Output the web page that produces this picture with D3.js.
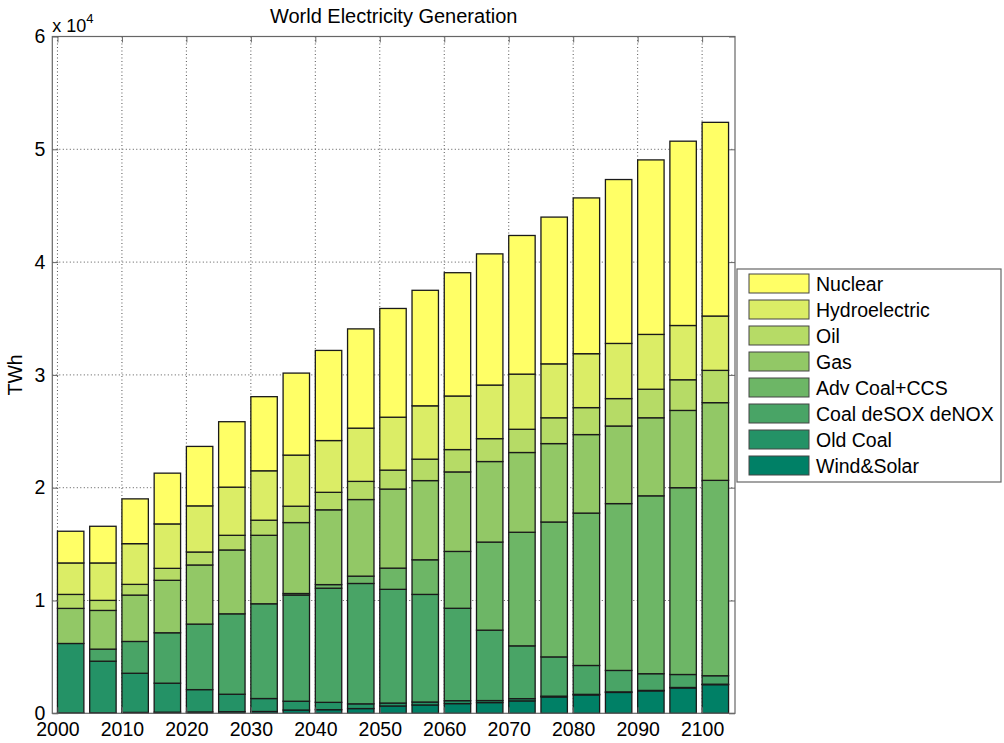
<!DOCTYPE html>
<html>
<head>
<meta charset="utf-8">
<script src="https://cdn.jsdelivr.net/npm/d3@7"></script>
<style>
  body { margin: 0; background: #fff; }
  #figure { width: 1004px; height: 743px; }
  text { font-family: "Liberation Sans", Arial, sans-serif; fill: #000; }
</style>
</head>
<body>
<div id="figure"></div>
<script>
// data (TWh)
const years = d3.range(2000, 2101, 5);
const seriesNames = ["Wind&Solar", "Old Coal", "Coal deSOX deNOX", "Adv Coal+CCS", "Gas", "Oil", "Hydroelectric", "Nuclear"];

const windSolar = [30, 40, 80, 100, 120, 140, 160, 290, 320, 420, 650, 740, 860, 950, 1100, 1450, 1630, 1850, 1990, 2250, 2540];
const oldCoal   = [6160, 4580, 3470, 2570, 1980, 1550, 1150, 780, 650, 420, 260, 260, 260, 180, 200, 70, 50, 50, 40, 40, 40];
const coalDesox = [0, 1070, 2820, 4470, 5810, 7130, 8400, 9410, 10120, 10670, 10080, 9540, 8190, 6240, 4680, 3480, 2560, 1900, 1480, 1150, 750];
const advCoal   = [0, 0, 0, 0, 0, 0, 0, 140, 320, 650, 1880, 3070, 5040, 7810, 10070, 11960, 13510, 14790, 15770, 16560, 17320];
const gas       = [3110, 3430, 4110, 4650, 5240, 5660, 6070, 6290, 6630, 6790, 7010, 7020, 7050, 7140, 7070, 6950, 6960, 6880, 6920, 6850, 6890];
const oil       = [1240, 890, 950, 1060, 1150, 1300, 1340, 1450, 1550, 1610, 1680, 1900, 1980, 2030, 2060, 2290, 2390, 2430, 2530, 2720, 2860];
const hydro     = [2790, 3320, 3610, 3940, 4090, 4270, 4380, 4530, 4590, 4720, 4690, 4730, 4750, 4750, 4890, 4780, 4780, 4890, 4860, 4810, 4820];
const nuclear   = [2810, 3250, 3970, 4500, 5270, 5800, 6570, 7270, 7990, 8800, 9640, 10240, 10930, 11630, 12290, 13010, 13810, 14530, 15470, 16340, 17170];

const xTicks = d3.range(2000, 2101, 10);
const yTicks = [0, 10000, 20000, 30000, 40000, 50000, 60000];

document.addEventListener("DOMContentLoaded", ()=>{
  const figure_width = 1004, figure_height = 743;
  const margin = { left: 52.3, right: 1004 - 735, top: 36.5, bottom: 743 - 713.3 },
        width = figure_width - margin.left - margin.right,
        height = figure_height - margin.top - margin.bottom;

  // summer colormap, bottom to top
  const colors = ["#008066", "#249266", "#49a466", "#6db666", "#92c866", "#b6db66", "#dbed66", "#ffff66"];
  const allSeries = [windSolar, oldCoal, coalDesox, advCoal, gas, oil, hydro, nuclear];

  const table = years.map((y, i) => {
    const row = { year: y };
    seriesNames.forEach((n, k) => { row[n] = allSeries[k][i]; });
    return row;
  });
  const stacked = d3.stack().keys(seriesNames)(table);

  let x_scale = d3.scaleLinear().domain([1999.2, 2105.1]).range([0, width]);
  let y_scale = d3.scaleLinear().domain([0, 60000]).range([height, 0]);

  let svg = d3.select("#figure").append("svg")
              .attr("width", figure_width)
              .attr("height", figure_height)
              .append("g")
              .attr("transform", "translate(" + margin.left + "," + margin.top + ")");

  // grid
  svg.append("g").selectAll("line").data(xTicks).join("line")
     .attr("x1", d => x_scale(d)).attr("x2", d => x_scale(d))
     .attr("y1", 0).attr("y2", height)
     .attr("stroke", "#555").attr("stroke-width", 1).attr("stroke-dasharray", "1,2.5");
  svg.append("g").selectAll("line").data(yTicks.slice(1, -1)).join("line")
     .attr("x1", 0).attr("x2", width)
     .attr("y1", d => y_scale(d)).attr("y2", d => y_scale(d))
     .attr("stroke", "#555").attr("stroke-width", 1).attr("stroke-dasharray", "1,2.5");

  // bars
  svg.append("g").selectAll("g").data(stacked).join("g")
     .attr("fill", (d, i) => colors[i])
     .selectAll("rect").data(d => d).join("rect")
     .attr("x", d => x_scale(d.data.year))
     .attr("width", x_scale(2004.1) - x_scale(2000))
     .attr("y", d => y_scale(d[1]))
     .attr("height", d => y_scale(d[0]) - y_scale(d[1]))
     .attr("stroke", "#1a1a1a").attr("stroke-width", 1.3);

  // axes box with inward ticks
  const tickLen = 6;
  svg.append("rect").attr("x", 0).attr("y", 0).attr("width", width).attr("height", height)
     .attr("fill", "none").attr("stroke", "#666").attr("stroke-width", 1.2);

  svg.append("g").attr("class", "x axis")
     .attr("transform", "translate(0," + height + ")")
     .call(d3.axisBottom(x_scale).tickValues(xTicks).tickFormat(d3.format("d")).tickSizeInner(-tickLen).tickSizeOuter(0).tickPadding(9))
     .call(g => g.select(".domain").remove());
  svg.append("g").attr("class", "x axis top")
     .call(d3.axisTop(x_scale).tickValues(xTicks).tickFormat("").tickSizeInner(-tickLen).tickSizeOuter(0))
     .call(g => g.select(".domain").remove());
  svg.append("g").attr("class", "y axis")
     .call(d3.axisLeft(y_scale).tickValues(yTicks).tickFormat(d => d / 10000).tickSizeInner(-tickLen).tickSizeOuter(0).tickPadding(7))
     .call(g => g.select(".domain").remove());
  svg.append("g").attr("class", "y axis right")
     .attr("transform", "translate(" + width + ",0)")
     .call(d3.axisRight(y_scale).tickValues(yTicks).tickFormat("").tickSizeInner(-tickLen).tickSizeOuter(0))
     .call(g => g.select(".domain").remove());

  svg.selectAll(".axis line").attr("stroke", "#666");
  svg.selectAll(".axis text").style("font-size", "19.5px").attr("fill", "#000")
     .style("font-family", "'Liberation Sans', Arial, sans-serif");

  // exponent label
  const expo = svg.append("text").attr("x", 0).attr("y", -5).style("font-size", "18px");
  expo.append("tspan").text("x 10");
  expo.append("tspan").attr("dy", -9).style("font-size", "13px").text("4");

  // title
  svg.append("text").attr("x", width / 2).attr("y", -14)
     .attr("text-anchor", "middle").style("font-size", "20px")
     .text("World Electricity Generation");

  // y label
  svg.append("text")
     .attr("transform", "translate(" + (22 - margin.left) + "," + (height / 2) + ") rotate(-90)")
     .attr("text-anchor", "middle").style("font-size", "19.5px")
     .text("TWh");

  // legend
  const legend = d3.select("#figure svg").append("g").attr("transform", "translate(737,269)");
  legend.append("rect").attr("width", 264).attr("height", 213)
        .attr("fill", "#fff").attr("stroke", "#666").attr("stroke-width", 1.2);
  const items = seriesNames.slice().reverse();
  const item = legend.selectAll("g.item").data(items).join("g")
        .attr("class", "item")
        .attr("transform", (d, i) => "translate(12," + (5 + i * 26) + ")");
  item.append("rect").attr("width", 60).attr("height", 19)
      .attr("fill", d => colors[seriesNames.indexOf(d)])
      .attr("stroke", "#444").attr("stroke-width", 1);
  item.append("text").attr("x", 67).attr("y", 16.5)
      .style("font-size", "19.5px").text(d => d);
});
</script>
</body>
</html>
